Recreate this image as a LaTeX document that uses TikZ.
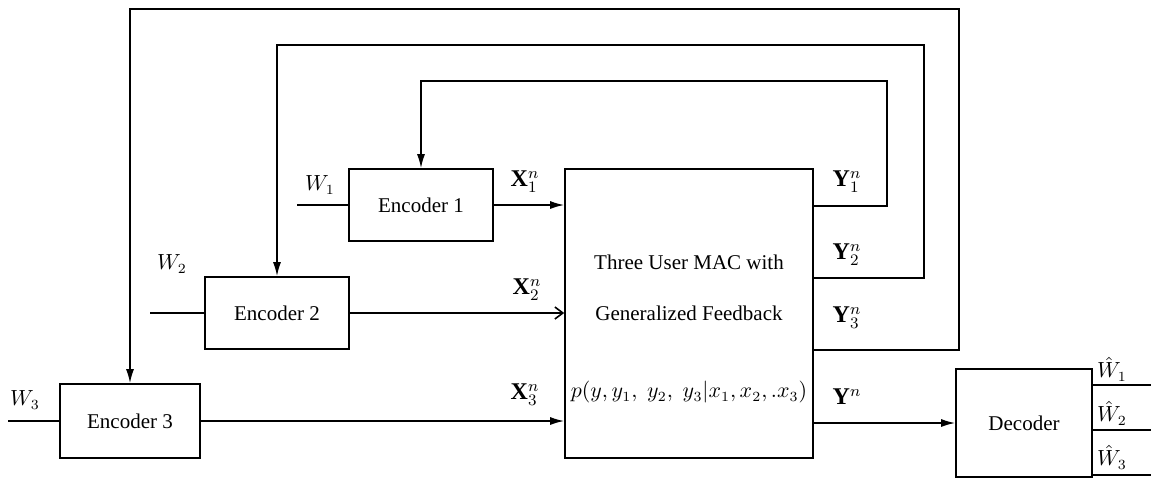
\documentclass[tikz,border=0pt]{standalone}
\usepackage{fontspec}
\setmainfont{Liberation Serif}
\usetikzlibrary{arrows.meta}
\tikzstyle{block}=[draw,line width=0.8pt,inner sep=0pt]
\tikzstyle{encoderblock}=[block,minimum width=72pt,minimum height=36pt]
\tikzstyle{orientedarc}=[-{Latex[length=7pt,width=4pt]},line width=0.8pt]
\tikzstyle{openarc}=[-{Straight Barb[length=4pt,width=6pt]},line width=0.8pt]
\tikzstyle{plainarc}=[line width=0.8pt]
\tikzstyle{siglabel}=[inner sep=1pt]
\tikzstyle{veclabel}=[inner sep=1pt,font=\fontsize{12}{14}\selectfont]

\begin{document}
\begin{tikzpicture}[x=0.5pt,y=-0.5pt,font=\fontsize{10.5}{12.6}\selectfont]
\useasboundingbox (0,0) rectangle (1151,489);

\node[encoderblock] (E1) at (421,205) {Encoder 1};
\node[encoderblock] (E2) at (277,313) {Encoder 2};
\node[block,minimum width=70pt,minimum height=37pt] (E3) at (130,421) {Encoder 3};
\node[block,minimum width=124pt,minimum height=144.5pt] (MAC) at (689,313.5) {};
\node[block,minimum width=68pt,minimum height=54pt] (DEC) at (1024,423) {Decoder};

\node (MACT1) at (689,262) {Three User MAC with};
\node (MACT2) at (689,313) {Generalized Feedback};
\node (MACT3) at (689,392) {$p\big(y,y_1,\; y_2,\; y_3\big|x_1,x_2,.x_3\big)$};

\coordinate (W1in) at (297,205);
\coordinate (W2in) at (150,313);
\coordinate (W3in) at (8,421);
\coordinate (Y1out) at (MAC.east |- 0,206);
\coordinate (Y2out) at (MAC.east |- 0,278);
\coordinate (Y3out) at (MAC.east |- 0,350);
\coordinate (Y1corner) at (887,81);
\coordinate (Y2corner) at (924,45);
\coordinate (Y3corner) at (959,9);
\coordinate (Wh1out) at (1151,385);
\coordinate (Wh2out) at (1151,430);
\coordinate (Wh3out) at (1151,475);

% inputs
\draw[plainarc] (W1in) -- (E1);
\draw[plainarc] (W2in) -- (E2);
\draw[plainarc] (W3in) -- (E3);
\node[siglabel] (W1lab) at (320,185) {$W_1$};
\node[siglabel] (W2lab) at (172,264) {$W_2$};
\node[siglabel] (W3lab) at (25,400) {$W_3$};

% channel inputs
\draw[orientedarc] (E1) -- (E1 -| MAC.west);
\draw[openarc] (E2) -- (E2 -| MAC.west);
\draw[orientedarc] (E3) -- (E3 -| MAC.west);
\node[veclabel] (X1lab) at (525,182) {$\mathbf{X}_1^n$};
\node[veclabel] (X2lab) at (527,290) {$\mathbf{X}_2^n$};
\node[veclabel] (X3lab) at (525,395) {$\mathbf{X}_3^n$};

% generalized feedback
\draw[orientedarc] (Y1out) -| (Y1corner) -| (E1.north);
\draw[orientedarc] (Y2out) -| (Y2corner) -| (E2.north);
\draw[orientedarc] (Y3out) -| (Y3corner) -| (E3.north);
\node[veclabel] (Y1lab) at (847,182) {$\mathbf{Y}_1^n$};
\node[veclabel] (Y2lab) at (847,255) {$\mathbf{Y}_2^n$};
\node[veclabel] (Y3lab) at (847,318) {$\mathbf{Y}_3^n$};

% receiver
\draw[orientedarc] (MAC.east |- DEC.west) -- (DEC.west);
\node[veclabel] (Ylab) at (847,397) {$\mathbf{Y}^n$};
\draw[plainarc] (DEC.east |- Wh1out) -- (Wh1out);
\draw[plainarc] (DEC.east |- Wh2out) -- (Wh2out);
\draw[plainarc] (DEC.east |- Wh3out) -- (Wh3out);
\node[siglabel] (Wh1lab) at (1112,369) {$\hat{W}_1$};
\node[siglabel] (Wh2lab) at (1112,413) {$\hat{W}_2$};
\node[siglabel] (Wh3lab) at (1112,457) {$\hat{W}_3$};

\end{tikzpicture}
\end{document}
